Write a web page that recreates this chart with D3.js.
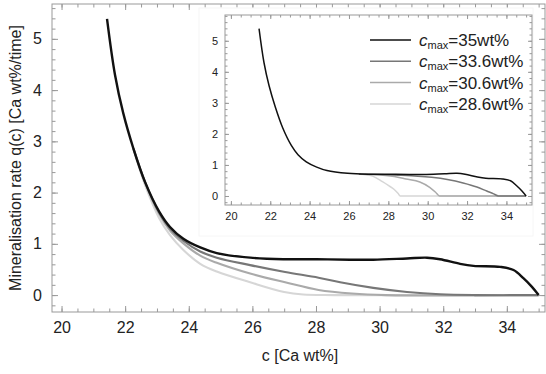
<!DOCTYPE html>
<html>
<head>
<meta charset="utf-8">
<script src="https://cdn.jsdelivr.net/npm/d3@7"></script>
<style>
  body { margin: 0; background: #fff; }
  svg { font-family: "Liberation Sans", Arial, sans-serif; display: block; }
</style>
</head>
<body>
<div id="chart"></div>
<script>
// --- data ---
// main plot, c [Ca wt%] and q(c)
var cMax35 = [21.43, 21.68, 21.94, 22.26, 22.63, 23.07, 23.41, 23.83, 24.36, 24.88, 25.93, 26.97, 28.02, 29.07, 29.8, 30.86, 31.49, 31.9, 32.53, 32.95, 33.79, 34.21, 34.52, 34.79, 35.0];
var qMax35 = [5.39, 4.30, 3.55, 2.86, 2.20, 1.63, 1.33, 1.10, 0.93, 0.82, 0.73, 0.70, 0.70, 0.69, 0.69, 0.715, 0.73, 0.70, 0.61, 0.57, 0.55, 0.49, 0.33, 0.16, 0.0];

var cMax336 = [22.26, 22.63, 23.07, 23.41, 23.83, 24.36, 24.88, 25.93, 27.03, 28.08, 28.76, 29.8, 30.86, 31.9, 33.0, 35.0];
var qMax336 = [2.86, 2.20, 1.61, 1.30, 1.06, 0.85, 0.73, 0.585, 0.45, 0.34, 0.25, 0.14, 0.06, 0.015, 0.0, 0.0];

var cMax306 = [22.26, 22.63, 23.07, 23.41, 23.83, 24.36, 24.88, 25.93, 27.03, 28.08, 29.13, 30.2, 35.0];
var qMax306 = [2.86, 2.19, 1.58, 1.26, 1.01, 0.77, 0.63, 0.42, 0.25, 0.10, 0.03, 0.0, 0.0];

var cMax286 = [22.26, 22.63, 23.07, 23.41, 23.83, 24.36, 24.88, 25.93, 27.0, 27.6, 28.6, 35.0];
var qMax286 = [2.84, 2.14, 1.50, 1.17, 0.88, 0.61, 0.46, 0.25, 0.06, 0.01, 0.0, 0.0];

// inset (the black curve is the same as the main one)
var cInset336 = [26.5, 27.5, 28.5, 29.5, 30.2, 31.0, 31.8, 32.5, 33.0, 33.35, 33.6, 35.0];
var qInset336 = [0.70, 0.69, 0.67, 0.64, 0.60, 0.53, 0.42, 0.29, 0.16, 0.07, 0.0, 0.0];
var cInset306 = [26.8, 27.6, 28.3, 28.9, 29.6, 30.1, 30.4, 30.6, 35.0];
var qInset306 = [0.70, 0.68, 0.63, 0.55, 0.45, 0.28, 0.12, 0.0, 0.0];
var cInset286 = [26.7, 27.2, 27.7, 28.0, 28.3, 28.5, 28.6, 35.0];
var qInset286 = [0.70, 0.64, 0.46, 0.34, 0.21, 0.08, 0.0, 0.0];

var legendLabels = ["35", "33.6", "30.6", "28.6"];
var seriesColors = ["#111", "#777", "#aaa", "#d6d6d6"];
var xTicks = [20, 22, 24, 26, 28, 30, 32, 34];
var yTicks = [0, 1, 2, 3, 4, 5];

function zip(cs, qs) {
  return cs.map(function(c, i) { return {c: c, q: qs[i]}; });
}

var width = 546, height = 374;
var svg = d3.select("#chart").append("svg")
    .attr("width", width)
    .attr("height", height);

var frameColor = "#999";

// draws a Mathematica style frame with inward ticks on all four sides
function drawFrame(g, x, y, opts) {
  var x0 = x.range()[0], x1 = x.range()[1];
  var y0 = y.range()[0], y1 = y.range()[1];
  var xMinor = d3.range(Math.ceil(x.domain()[0] * 2) / 2, x.domain()[1], 0.5);
  var yMinor = d3.range(Math.ceil(y.domain()[0] * 5) / 5, y.domain()[1], 0.2);

  // minor ticks first
  g.append("g").attr("transform", "translate(0," + y0 + ")")
    .call(d3.axisBottom(x).tickValues(xMinor).tickSize(-opts.minor).tickFormat(""));
  g.append("g").attr("transform", "translate(0," + y1 + ")")
    .call(d3.axisTop(x).tickValues(xMinor).tickSize(-opts.minor).tickFormat(""));
  g.append("g").attr("transform", "translate(" + x0 + ",0)")
    .call(d3.axisLeft(y).tickValues(yMinor).tickSize(-opts.minor).tickFormat(""));
  g.append("g").attr("transform", "translate(" + x1 + ",0)")
    .call(d3.axisRight(y).tickValues(yMinor).tickSize(-opts.minor).tickFormat(""));

  // major ticks, labelled on bottom and left
  g.append("g").attr("transform", "translate(0," + y0 + ")")
    .call(d3.axisBottom(x).tickValues(xTicks).tickSize(-opts.major).tickPadding(opts.pad + opts.major).tickFormat(d3.format("d")));
  g.append("g").attr("transform", "translate(0," + y1 + ")")
    .call(d3.axisTop(x).tickValues(xTicks).tickSize(-opts.major).tickFormat(""));
  g.append("g").attr("transform", "translate(" + x0 + ",0)")
    .call(d3.axisLeft(y).tickValues(yTicks).tickSize(-opts.major).tickPadding(opts.pad + opts.major).tickFormat(d3.format("d")));
  g.append("g").attr("transform", "translate(" + x1 + ",0)")
    .call(d3.axisRight(y).tickValues(yTicks).tickSize(-opts.major).tickFormat(""));

  g.selectAll(".domain").remove();
  g.selectAll(".tick line").attr("stroke", frameColor).attr("stroke-width", 1);
  g.selectAll(".tick text")
    .attr("font-family", "Liberation Sans, Arial, sans-serif")
    .attr("font-size", opts.font)
    .attr("fill", "#222");

  g.append("rect")
    .attr("x", x0).attr("y", y1)
    .attr("width", x1 - x0).attr("height", y0 - y1)
    .attr("fill", "none")
    .attr("stroke", frameColor)
    .attr("stroke-width", 1);
}

// --- main plot ---
var x = d3.scaleLinear().domain([19.7, 35.2]).range([52, 545]);
var y = d3.scaleLinear().domain([-0.33, 5.68]).range([312, 4]);

var main = svg.append("g");
drawFrame(main, x, y, {major: 6, minor: 3.5, pad: 4, font: "16px"});

var line = d3.line()
    .x(function(d) { return x(d.c); })
    .y(function(d) { return y(d.q); })
    .curve(d3.curveCatmullRom.alpha(0.5));

var mainSeries = [zip(cMax286, qMax286), zip(cMax306, qMax306), zip(cMax336, qMax336), zip(cMax35, qMax35)];
var mainColors = seriesColors.slice().reverse();

main.selectAll(".curve")
  .data(mainSeries)
  .enter().append("path")
    .attr("class", "curve")
    .attr("d", line)
    .attr("fill", "none")
    .attr("stroke", function(d, i) { return mainColors[i]; })
    .attr("stroke-width", function(d, i) { return i == 3 ? 2.4 : 2.1; })
    .attr("stroke-linejoin", "round");

// axis titles
svg.append("text")
    .attr("x", 300)
    .attr("y", 361)
    .attr("text-anchor", "middle")
    .attr("font-size", "16px")
    .attr("fill", "#222")
    .text("c [Ca wt%]");

svg.append("text")
    .attr("transform", "translate(21,158) rotate(-90)")
    .attr("text-anchor", "middle")
    .attr("font-size", "16px")
    .attr("fill", "#222")
    .text("Mineralisation rate q(c) [Ca wt%/time]");

// --- inset ---
svg.append("rect")
    .attr("x", 199).attr("y", 8)
    .attr("width", 334).attr("height", 228)
    .attr("fill", "#fff")
    .attr("stroke", "#f6f6f6");

var xi = d3.scaleLinear().domain([19.7, 35.3]).range([225, 532]);
var yi = d3.scaleLinear().domain([-0.29, 5.83]).range([205, 15]);

var inset = svg.append("g");
drawFrame(inset, xi, yi, {major: 4, minor: 2.5, pad: 3, font: "11px"});

var lineInset = d3.line()
    .x(function(d) { return xi(d.c); })
    .y(function(d) { return yi(d.q); })
    .curve(d3.curveMonotoneX);

var lineInsetSmooth = d3.line()
    .x(function(d) { return xi(d.c); })
    .y(function(d) { return yi(d.q); })
    .curve(d3.curveCatmullRom.alpha(0.5));

var insetSeries = [zip(cInset286, qInset286), zip(cInset306, qInset306), zip(cInset336, qInset336), zip(cMax35, qMax35)];

inset.selectAll(".curve")
  .data(insetSeries)
  .enter().append("path")
    .attr("class", "curve")
    .attr("d", function(d, i) { return i == 3 ? lineInsetSmooth(d) : lineInset(d); })
    .attr("fill", "none")
    .attr("stroke", function(d, i) { return mainColors[i]; })
    .attr("stroke-width", 1.5)
    .attr("stroke-linejoin", "round");

// legend
var legend = svg.append("g").attr("transform", "translate(370,40)");
var rows = legend.selectAll(".row")
  .data(legendLabels)
  .enter().append("g")
    .attr("class", "row")
    .attr("transform", function(d, i) { return "translate(0," + (i * 21.3) + ")"; });

rows.append("line")
    .attr("x1", 0).attr("x2", 41)
    .attr("y1", 0).attr("y2", 0)
    .attr("stroke", function(d, i) { return seriesColors[i]; })
    .attr("stroke-width", 1.5);

var lt = rows.append("text")
    .attr("x", 49)
    .attr("y", 6)
    .attr("font-size", "17px")
    .attr("fill", "#222");
lt.append("tspan").attr("font-style", "italic").text("c");
lt.append("tspan").attr("font-size", "11px").attr("dy", 3).text("max");
lt.append("tspan").attr("dy", -3).text(function(d) { return "=" + d + "wt%"; });
</script>
</body>
</html>
